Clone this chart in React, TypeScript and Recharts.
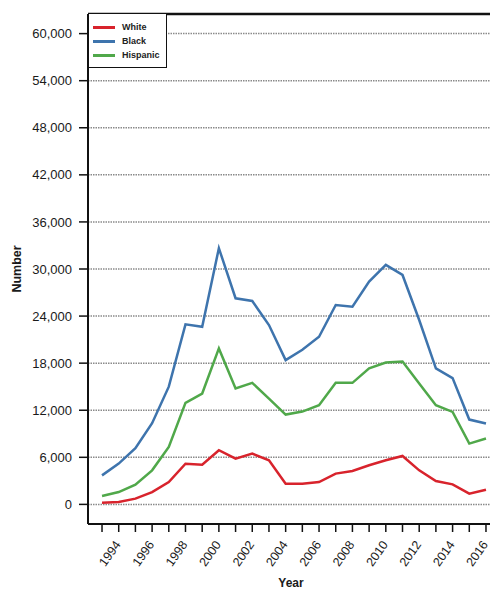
import { LineChart, Line, XAxis, YAxis, CartesianGrid, ReferenceLine, Legend, Label } from "recharts";

const years = [
  1993, 1994, 1995, 1996, 1997, 1998, 1999, 2000, 2001, 2002, 2003, 2004,
  2005, 2006, 2007, 2008, 2009, 2010, 2011, 2012, 2013, 2014, 2015, 2016,
];
const white = [
  200, 300, 730, 1570, 2850, 5190, 5060, 6900, 5830, 6470, 5620, 2640,
  2640, 2850, 3920, 4260, 4980, 5620, 6170, 4340, 2980, 2550, 1360, 1870,
];
const black = [
  3700, 5200, 7150, 10350, 15000, 22950, 22640, 32650, 26270, 25920, 22860, 18390,
  19700, 21370, 25410, 25200, 28390, 30520, 29240, 23500, 17330, 16100, 10810, 10300,
];
const hispanic = [
  1060, 1570, 2510, 4340, 7320, 12940, 14130, 19880, 14770, 15490, 13490, 11450,
  11830, 12640, 15490, 15490, 17330, 18090, 18220, 15410, 12640, 11790, 7750, 8390,
];
const yTicks = [0, 6000, 12000, 18000, 24000, 30000, 36000, 42000, 48000, 54000, 60000];

const seriesNames = ["White", "Black", "Hispanic"];
const seriesColors = ["#d8232c", "#3e74ad", "#50a84a"];

const data = years.map((year, i) => ({
  year,
  White: white[i],
  Black: black[i],
  Hispanic: hispanic[i],
}));

const font = "'Liberation Sans', Arial, sans-serif";

function YearTick({ x, y, payload }: any) {
  if (payload.value % 2 !== 0) return <g />;
  const ax = x - 1;
  const ay = y + 8;
  return (
    <text
      x={ax}
      y={ay}
      dy="0.35em"
      textAnchor="end"
      transform={`rotate(-55, ${ax}, ${ay})`}
      fontFamily={font}
      fontSize={12.5}
      fill="#1a1a1a"
    >
      {payload.value}
    </text>
  );
}

function LegendBox() {
  return (
    <div
      style={{
        border: "1.5px solid #111",
        background: "white",
        width: 73,
        padding: "6px 0 5px 4px",
        fontFamily: font,
        fontSize: 9,
        fontWeight: 700,
        color: "#222",
      }}
    >
      {seriesNames.map((name, i) => (
        <div key={name} style={{ display: "flex", alignItems: "center", height: 14 }}>
          <span
            style={{
              display: "inline-block",
              width: 22,
              height: 3,
              background: seriesColors[i],
              marginRight: 7,
            }}
          />
          {name}
        </div>
      ))}
    </div>
  );
}

export default function App() {
  return (
    <div style={{ position: "absolute", left: 0, top: 0, width: 490, height: 590, overflow: "hidden", background: "white" }}>
      <LineChart width={510} height={590} data={data} margin={{ top: 14, right: 10, bottom: 0, left: 0 }}>
        <CartesianGrid
          vertical={false}
          horizontalValues={yTicks}
          stroke="#8a8a8a"
          strokeWidth={1.5}
          strokeDasharray="1.5 1"
        />
        <XAxis
          dataKey="year"
          type="number"
          domain={[1992.16, 2016.84]}
          ticks={years}
          interval={0}
          height={66}
          axisLine={{ stroke: "#111", strokeWidth: 2 }}
          tickLine={{ stroke: "#111", strokeWidth: 1.5 }}
          tickSize={8}
          tick={<YearTick />}
        >
          <Label
            content={({ viewBox }: any) => (
              <text
                x={viewBox.x + viewBox.width / 2 - 3}
                y={587}
                textAnchor="middle"
                fontFamily={font}
                fontWeight={700}
                fontSize={12}
                fill="#1a1a1a"
              >
                Year
              </text>
            )}
          />
        </XAxis>
        <YAxis
          type="number"
          domain={[-2500, 62500]}
          ticks={yTicks}
          interval={0}
          width={88}
          axisLine={{ stroke: "#111", strokeWidth: 2 }}
          tickLine={{ stroke: "#111", strokeWidth: 1.5 }}
          tickSize={9}
          tickMargin={7}
          tick={{ fontFamily: font, fontSize: 13, fill: "#1a1a1a" }}
          tickFormatter={(v: number) => v.toLocaleString("en-US")}
        >
          <Label
            content={({ viewBox }: any) => {
              const cx = viewBox.x + 17;
              const cy = viewBox.y + viewBox.height / 2;
              return (
                <text
                  x={cx}
                  y={cy}
                  dy="0.35em"
                  textAnchor="middle"
                  transform={`rotate(-90, ${cx}, ${cy})`}
                  fontFamily={font}
                  fontWeight={700}
                  fontSize={12.5}
                  fill="#1a1a1a"
                >
                  Number
                </text>
              );
            }}
          />
        </YAxis>
        <ReferenceLine y={62500} stroke="#111" strokeWidth={2.5} />
        <Legend
          layout="horizontal"
          align="center"
          verticalAlign="middle"
          wrapperStyle={{ left: 88, top: 13, width: 78, height: "auto" }}
          content={() => <LegendBox />}
        />
        {seriesNames.map((name, i) => (
          <Line
            key={name}
            type="linear"
            dataKey={name}
            stroke={seriesColors[i]}
            strokeWidth={2.5}
            dot={false}
            isAnimationActive={false}
          />
        ))}
      </LineChart>
    </div>
  );
}
